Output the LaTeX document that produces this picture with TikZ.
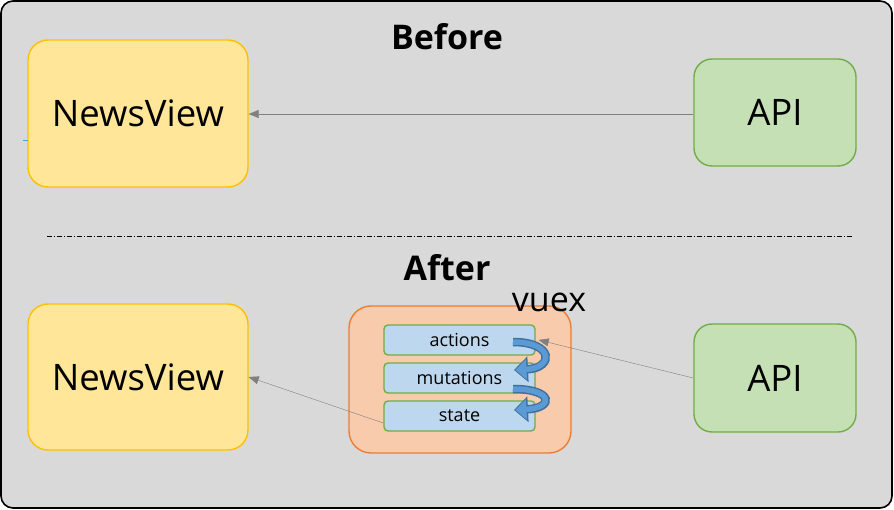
\documentclass[tikz,border=0pt]{standalone}
\usepackage{fontspec}
\setmainfont{Open Sans}
\usetikzlibrary{arrows.meta}
\definecolor{frameBg}{HTML}{D9D9D9}
\definecolor{viewFill}{HTML}{FFE699}
\definecolor{viewLine}{HTML}{FFC000}
\definecolor{apiFill}{HTML}{C5E0B4}
\definecolor{apiLine}{HTML}{70AD47}
\definecolor{vuexFill}{HTML}{F8CBAD}
\definecolor{vuexLine}{HTML}{ED7D31}
\definecolor{partFill}{HTML}{BDD7EE}
\definecolor{flowFill}{HTML}{5B9BD5}
\definecolor{flowLine}{HTML}{41719C}
\begin{document}
\begin{tikzpicture}[
                x = 1pt, y = -1pt,
                view/.style = {draw = viewLine, line width = 1.4pt, fill = viewFill, rounded corners = 20pt,
                    minimum width = 220pt, minimum height = 147pt, font = \fontsize{36.5}{40}\selectfont},
                api/.style = {draw = apiLine, line width = 1.4pt, fill = apiFill, rounded corners = 18pt,
                    minimum width = 162pt, minimum height = 107pt, font = \fontsize{36.5}{40}\selectfont},
                store/.style = {draw = vuexLine, line width = 1.4pt, fill = vuexFill, rounded corners = 22pt,
                    minimum width = 222pt, minimum height = 147pt},
                part/.style = {draw = apiLine, line width = 1.4pt, fill = partFill, rounded corners = 4pt,
                    minimum width = 151pt, minimum height = 30pt, inner sep = 0pt,
                    font = \fontsize{18}{20}\selectfont},
                title/.style = {font = \fontsize{34}{38}\selectfont\bfseries},
                arr/.style = {draw = black!50, thin, -{Triangle[width = 8pt, length = 10pt]}},
                flowout/.style = {draw = flowLine, line width = 8.5pt, -{Triangle[width = 25pt, length = 14pt]}},
                flowin/.style = {draw = flowFill, line width = 5.5pt, shorten >= 1.5pt, -{Triangle[width = 20pt, length = 11pt]}},
            ]
            \path[draw = black, line width = 1.6pt, fill = frameBg, rounded corners = 12pt] (1, 1) rectangle (892, 508);
            \useasboundingbox (0, 0) rectangle (894, 510);

            \node (before) at (447, 37) [title] {Before};
            \node (after) at (447, 268) [title] {After};

            \node (newsA) at (138, 113.5) [view] {NewsView};
            \node (apiA) at (775, 112.5) [api] {API};
            \node (newsB) at (138, 377) [view, minimum height = 146pt] {NewsView};
            \node (apiB) at (775, 378) [api, minimum height = 108pt] {API};

            \node (vuex) at (460, 379.5) [store] {};
            \node (vuexname) at (549, 302) [font = \fontsize{34}{38}\selectfont] {vuex};
            \node (actions) at (459.5, 340) [part] {actions};
            \node (mutations) at (459.5, 378) [part] {mutations};
            \node (state) at (459.5, 416) [part] {state};

            \coordinate (tickL) at (23, 140);
            \coordinate (tickR) at (28, 140);
            \path[draw = flowFill] (tickL) -- (tickR);

            \coordinate (lineL) at (47, 236);
            \coordinate (lineR) at (853, 236);
            \path[draw, thin, dash pattern = on 5pt off 2pt on 1pt off 2pt] (lineL) -- (lineR);

            \path[arr] (apiA.west |- 0, 114) -- (newsA.east |- 0, 114);
            \path[arr] (apiB.west) -- ([xshift = 3pt]actions.east);
            \path[arr] ([yshift = -7pt]state.west) -- (newsB.east);

            \coordinate (f1s) at (513, 342);
            \coordinate (f1e) at (514, 370);
            \coordinate (f2s) at (513, 389);
            \coordinate (f2e) at (514, 410);
            \path[flowout] (f1s) .. controls (554, 342) and (554, 368) .. (f1e);
            \path[flowin] (f1s) .. controls (554, 342) and (554, 368) .. (f1e);
            \path[flowout] (f2s) .. controls (554, 389) and (554, 408) .. (f2e);
            \path[flowin] (f2s) .. controls (554, 389) and (554, 408) .. (f2e);
        \end{tikzpicture}
\end{document}
